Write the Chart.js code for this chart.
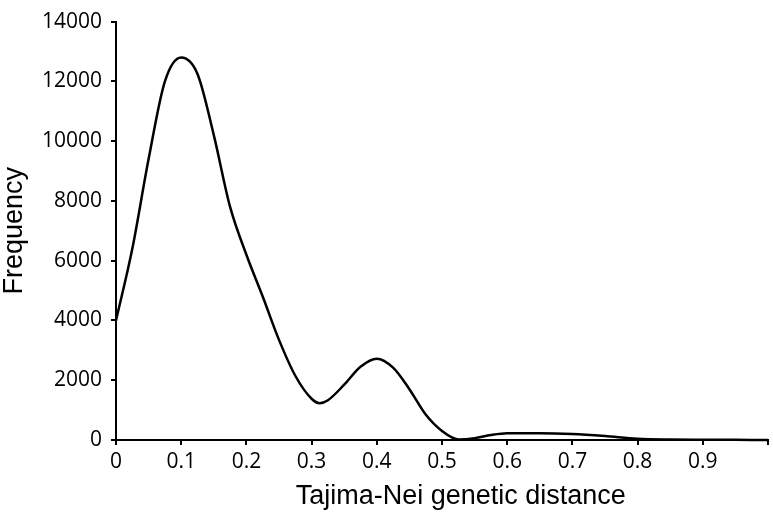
<!DOCTYPE html>
<html>
<head>
<meta charset="utf-8">
<script src="https://cdn.jsdelivr.net/npm/chart.js@4"></script>
<style>
    html, body { margin: 0; padding: 0; background: #fff; }
    #wrap { width: 773px; height: 517px; position: relative; }
</style>
</head>
<body>
<div id="wrap"><canvas id="distChart"></canvas></div>
<script>
// genetic distance (x) and pair counts (y)
const distances = [0, 0.025, 0.05, 0.075, 0.1, 0.125, 0.15, 0.175, 0.2, 0.225, 0.25, 0.275, 0.3,
    0.3125, 0.325, 0.35, 0.375, 0.4, 0.425, 0.45, 0.475, 0.5, 0.525, 0.55, 0.575, 0.6, 0.65, 0.7,
    0.75, 0.8, 0.85, 0.9, 0.95, 1.0];
const frequency = [4000, 6400, 9400, 12000, 12800, 12250, 10200, 7800, 6200, 4800, 3350, 2150, 1380,
    1230, 1330, 1850, 2450, 2720, 2420, 1700, 850, 300, 20, 60, 170, 230, 230, 200,
    130, 40, 15, 10, 5, 0];
const xTickLabels = ['0', '0.1', '0.2', '0.3', '0.4', '0.5', '0.6', '0.7', '0.8', '0.9', ''];
const yTickLabels = ['0', '2000', '4000', '6000', '8000', '10000', '12000', '14000'];

const points = distances.map((d, i) => ({ x: d, y: frequency[i] }));

const tickFont = { family: 'Open Sans', size: 21 };
const titleFont = { family: 'Liberation Sans', size: 27, lineHeight: 1 };

const chartCtx = document.getElementById('distChart').getContext('2d');

const distChart = new Chart(chartCtx, {
    type: 'line',
    data: {
        datasets: [{
            data: points,
            borderColor: '#000',
            borderWidth: 2.5,
            pointRadius: 0,
            cubicInterpolationMode: 'monotone',
            fill: false,
            clip: false
        }]
    },
    options: {
        responsive: true,
        maintainAspectRatio: false,
        animation: false,
        layout: { padding: { left: 0, right: 5, top: 14, bottom: 0 } },
        plugins: { legend: { display: false }, tooltip: { enabled: false } },
        scales: {
            x: {
                type: 'linear',
                min: 0,
                max: 1,
                ticks: {
                    stepSize: 0.1,
                    color: '#000',
                    font: tickFont,
                    padding: 4,
                    maxRotation: 0,
                    callback: (v, i) => xTickLabels[i]
                },
                grid: { drawOnChartArea: false, tickLength: 5, color: '#000', lineWidth: 2 },
                border: { color: '#000', width: 2 },
                title: {
                    display: true,
                    text: '\u00a0\u00a0\u00a0\u00a0\u00a0Tajima-Nei genetic distance',
                    color: '#000',
                    font: titleFont,
                    padding: { top: 0, bottom: 7 }
                },
                afterFit: (scale) => { scale.height = 77; }
            },
            y: {
                min: 0,
                max: 14000,
                ticks: {
                    stepSize: 2000,
                    color: '#000',
                    font: tickFont,
                    padding: 9,
                    callback: (v, i) => yTickLabels[i]
                },
                grid: { drawOnChartArea: false, tickLength: 5, color: '#000', lineWidth: 2 },
                border: { color: '#000', width: 2 },
                title: {
                    display: true,
                    text: 'Frequency',
                    color: '#000',
                    font: titleFont,
                    padding: { top: 1, bottom: 0 }
                },
                afterFit: (scale) => { scale.width = 116; }
            }
        }
    }
});
</script>
</body>
</html>
